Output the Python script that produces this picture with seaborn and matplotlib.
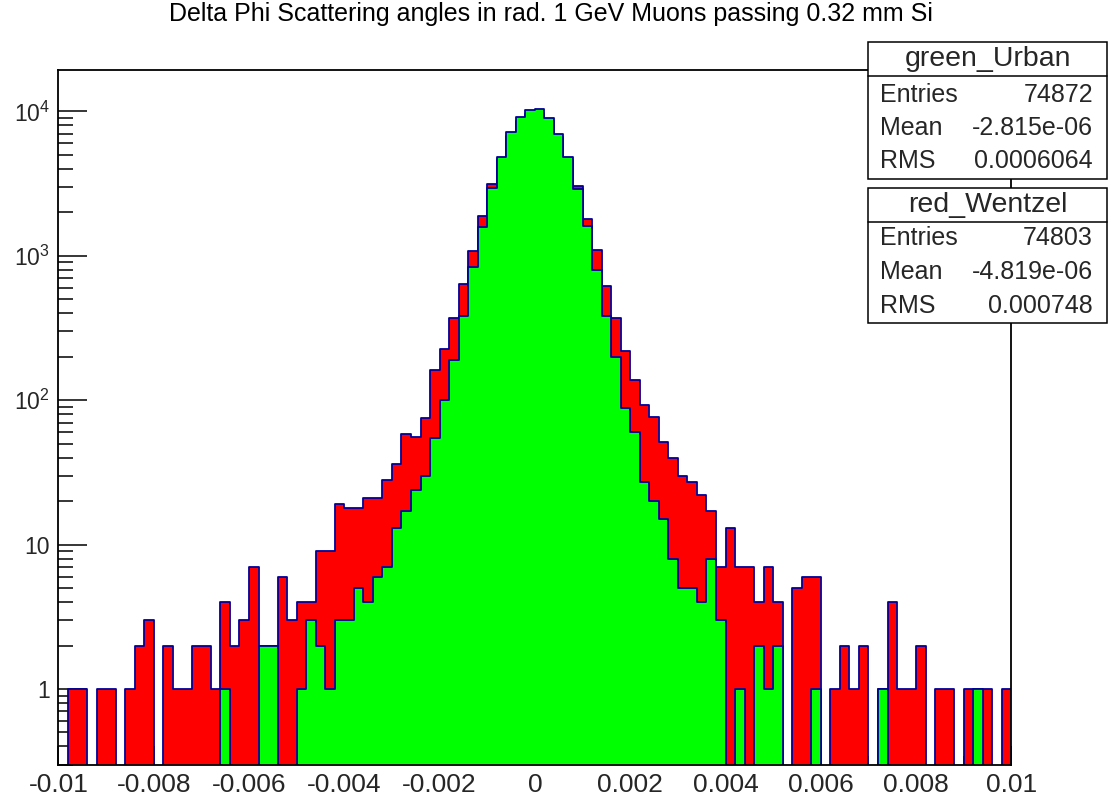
import numpy as np
import pandas as pd
import matplotlib
matplotlib.use("Agg")
import matplotlib.pyplot as plt
import seaborn as sns
from matplotlib.patches import Rectangle
from matplotlib.lines import Line2D
from matplotlib.ticker import FixedLocator, FixedFormatter, LogLocator, NullFormatter, MultipleLocator

# ---------------- data ----------------
x_min, x_max, n_bins = -0.01, 0.01, 100

red_wentzel = [
    0, 1, 1, 0, 1, 1, 0, 1, 2, 3,
    0, 2, 1, 1, 2, 2, 1, 4, 2, 3,
    7, 2, 2, 6, 3, 4, 4, 9, 9, 19,
    18, 18, 21, 21, 28, 36, 58, 56, 75, 163,
    225, 372, 634, 1083, 1893, 3124, 4650, 6800, 8600, 9650,
    9750, 8600, 6650, 4600, 3040, 1787, 1095, 617, 372, 220,
    137, 93, 77, 51, 40, 30, 27, 22, 17, 7,
    13, 7, 7, 4, 7, 4, 0, 5, 6, 6,
    0, 1, 2, 1, 2, 0, 1, 4, 1, 1,
    2, 0, 1, 1, 0, 1, 1, 1, 0, 1,
]
green_urban = [
    0, 0, 0, 0, 0, 0, 0, 0, 0, 0,
    0, 0, 0, 0, 0, 0, 0, 1, 0, 0,
    0, 2, 2, 0, 0, 1, 3, 2, 1, 3,
    3, 5, 4, 6, 7, 13, 17, 24, 30, 55,
    100, 191, 382, 831, 1589, 2930, 4806, 7162, 9100, 10230,
    10390, 9040, 7000, 4830, 2885, 1614, 796, 382, 200, 88,
    60, 27, 20, 15, 8, 5, 5, 4, 8, 3,
    0, 1, 0, 2, 1, 2, 0, 0, 0, 1,
    0, 0, 0, 0, 0, 0, 1, 0, 0, 0,
    0, 0, 0, 0, 0, 0, 1, 0, 0, 0,
]

x_ticks = [-0.01, -0.008, -0.006, -0.004, -0.002, 0, 0.002, 0.004, 0.006, 0.008, 0.01]
x_tick_labels = ["-0.01", "-0.008", "-0.006", "-0.004", "-0.002", "0",
                 "0.002", "0.004", "0.006", "0.008", "0.01"]
y_ticks = [1, 10, 100, 1000, 10000]
y_tick_labels = ["1", "10", "$10^{2}$", "$10^{3}$", "$10^{4}$"]

title = "Delta Phi Scattering angles in rad. 1 GeV Muons passing 0.32 mm Si"

stat_names = ["green_Urban", "red_Wentzel"]
stat_entries = ["74872", "74803"]
stat_means = ["-2.815e-06", "-4.819e-06"]
stat_rms = ["0.0006064", "0.000748"]

# ---------------- style ----------------
sns.set_style("ticks")
plt.rcParams["font.family"] = ["Liberation Sans", "DejaVu Sans"]
plt.rcParams["mathtext.fontset"] = "custom"
plt.rcParams["mathtext.rm"] = "Liberation Sans"
plt.rcParams["mathtext.it"] = "Liberation Sans:italic"
plt.rcParams["mathtext.bf"] = "Liberation Sans:bold"

W, H = 1108, 801
fig = plt.figure(figsize=(W / 100, H / 100), dpi=100)
fig.patch.set_facecolor("white")

def fx(px):
    return px / W

def fy(py):
    return 1 - py / H

ax_l, ax_r, ax_t, ax_b = 58.4, 1011.4, 70.0, 764.5
ax = fig.add_axes([fx(ax_l), fy(ax_b), fx(ax_r) - fx(ax_l), fy(ax_t) - fy(ax_b)])
ax.set_facecolor("white")
ax.set_yscale("log")

edges = np.linspace(x_min, x_max, n_bins + 1)
centers = 0.5 * (edges[:-1] + edges[1:])
df = pd.DataFrame({
    "dphi": np.concatenate([centers, centers]),
    "count": np.array(red_wentzel + green_urban, dtype=float),
    "model": ["red_Wentzel"] * n_bins + ["green_Urban"] * n_bins,
})

line_col = "#000099"
for name, col in [("red_Wentzel", "#ff0000"), ("green_Urban", "#00ff00")]:
    sns.histplot(data=df[df["model"] == name], x="dphi", weights="count",
                 bins=n_bins, binrange=(x_min, x_max), element="step", fill=True,
                 color=col, alpha=1.0, edgecolor=line_col, linewidth=1.3, ax=ax)

ax.set_xlim(x_min, x_max)
ax.set_ylim(0.3, 19360)
ax.set_xlabel("")
ax.set_ylabel("")

for side in ["left", "right", "top", "bottom"]:
    ax.spines[side].set_visible(True)
    ax.spines[side].set_color("black")
    ax.spines[side].set_linewidth(1.3)
    ax.spines[side].set_zorder(5)

ax.xaxis.set_major_locator(FixedLocator(x_ticks))
ax.xaxis.set_major_formatter(FixedFormatter(x_tick_labels))
ax.xaxis.set_minor_locator(MultipleLocator(0.0005))
ax.yaxis.set_major_locator(FixedLocator(y_ticks))
ax.yaxis.set_major_formatter(FixedFormatter(y_tick_labels))
ax.yaxis.set_minor_locator(LogLocator(base=10, subs=np.arange(2, 10)))
ax.yaxis.set_minor_formatter(NullFormatter())

ax.tick_params(axis="x", which="major", direction="in", length=13.5, width=1.1,
               labelsize=19, pad=6, top=False, color="black")
ax.tick_params(axis="x", which="minor", direction="in", length=6.5, width=1.1,
               top=False, color="black")
ax.tick_params(axis="y", which="major", direction="in", length=21, width=1.1,
               labelsize=16.5, pad=6, right=False, color="black")
ax.tick_params(axis="y", which="minor", direction="in", length=10.5, width=1.1,
               right=False, color="black")

# title
fig.text(fx(551), fy(14), title, ha="center", va="center", fontsize=18, color="black")

# stats boxes
boxes = [
    (42.3, 75.7, 179.3, [95.0, 128.3, 160.5], 58.5),
    (188.3, 222.3, 323.3, [238.3, 271.7, 306.0], 205.0),
]
bx_l, bx_r = 868.3, 1106.7
for k, (top, sep, bot, rows, ty) in enumerate(boxes):
    rect = Rectangle((fx(bx_l), fy(bot)), fx(bx_r) - fx(bx_l), fy(top) - fy(bot),
                     transform=fig.transFigure, facecolor="white", edgecolor="black",
                     linewidth=1.1, zorder=10)
    fig.add_artist(rect)
    fig.add_artist(Line2D([fx(bx_l), fx(bx_r)], [fy(sep), fy(sep)],
                          transform=fig.transFigure, color="black", linewidth=1.1, zorder=11))
    fig.text(fx((bx_l + bx_r) / 2), fy(ty), stat_names[k], ha="center", va="center",
             fontsize=20.5, zorder=12)
    labels = ["Entries", "Mean", "RMS"]
    vals = [stat_entries[k], stat_means[k], stat_rms[k]]
    for lab, val, ry in zip(labels, vals, rows):
        fig.text(fx(880), fy(ry), lab, ha="left", va="center", fontsize=18, zorder=12)
        fig.text(fx(1093), fy(ry), val, ha="right", va="center", fontsize=18, zorder=12)

fig.savefig("out.png", dpi=100, facecolor="white")
